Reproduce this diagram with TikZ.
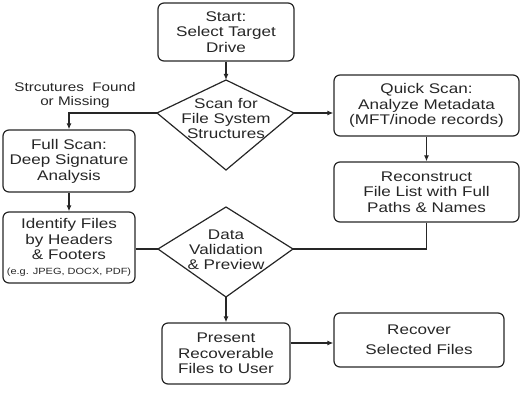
\documentclass[tikz,border=0pt]{standalone}
\usepackage{fontspec}
\setmainfont[FakeStretch=1.22]{Liberation Sans}
\usetikzlibrary{arrows.meta,calc}
\begin{document}
\begin{tikzpicture}[x=1pt,y=-1pt,
  line width=1.2pt, draw=black!85,
  box/.style={draw=black!85, rounded corners=6pt, align=center, inner sep=0pt,
    font=\fontsize{14}{15.5}\selectfont, text=black!85},
  dtext/.style={align=center, inner sep=0pt, font=\fontsize{14}{15}\selectfont, text=black!85},
  arr/.style={-{Latex[length=6pt,width=5pt]}},
  plain/.style={}]
\useasboundingbox (0,0) rectangle (528,401);
% boxes
\node[box, minimum width=136pt, minimum height=58pt] (start) at (226,32) {Start:\\Select Target\\Drive};
\node[box, minimum width=185pt, minimum height=61pt] (quick) at (426.5,105.5) {Quick Scan:\\Analyze Metadata\\(MFT/inode records)};
\node[box, minimum width=185pt, minimum height=60pt] (recon) at (426.5,192) {Reconstruct\\File List with Full\\Paths \& Names};
\node[box, minimum width=132pt, minimum height=62pt] (full) at (69,161) {Full Scan:\\Deep Signature\\Analysis};
\node[box, minimum width=132pt, minimum height=71pt] (ident) at (69,247.5) {Identify Files\\by Headers\\\& Footers\\[-1pt]{\fontsize{9}{12}\selectfont (e.g. JPEG, DOCX, PDF)}};
\node[box, minimum width=128pt, minimum height=61pt] (present) at (226,353.5) {Present\\Recoverable\\Files to User};
\node[box, minimum width=170pt, minimum height=54pt, font=\fontsize{14}{20}\selectfont] (recover) at (419,340) {Recover\\Selected Files};
% diamond 1
\coordinate (d1t) at (226,80);
\coordinate (d1l) at (157,113);
\coordinate (d1r) at (294,113);
\coordinate (d1b) at (226,170);
\draw (d1t) -- (d1r) -- (d1b) -- (d1l) -- cycle;
\node[dtext] (scan) at (226,119) {Scan for\\File System\\Structures};
% diamond 2
\coordinate (d2t) at (226,207);
\coordinate (d2l) at (158,249);
\coordinate (d2r) at (293,249);
\coordinate (d2b) at (226,297);
\draw (d2t) -- (d2r) -- (d2b) -- (d2l) -- cycle;
\node[dtext] (valid) at (226,249.5) {Data\\Validation\\\& Preview};
% label
\node[align=center, inner sep=0pt, font=\fontsize{12.5}{14}\selectfont, text=black!85] (lbl) at (75,95) {Strcutures~~Found\\or Missing};
% connectors
\draw[arr] (start.south) -- (d1t);
\draw[arr] (d1l) -| (full.north);
\draw[arr] (d1r) -- (d1r -| quick.west);
\draw[arr] (quick.south) -- (recon.north);
\draw (recon.south) |- (d2r);
\draw[arr] (full.south) -- (ident.north);
\draw (ident.east |- d2l) -- (d2l);
\draw[arr] (d2b) -- (present.north);
\draw[arr] ([yshift=10.5pt]present.east) -- ([yshift=10.5pt]present.east -| recover.west);
\end{tikzpicture}
\end{document}
